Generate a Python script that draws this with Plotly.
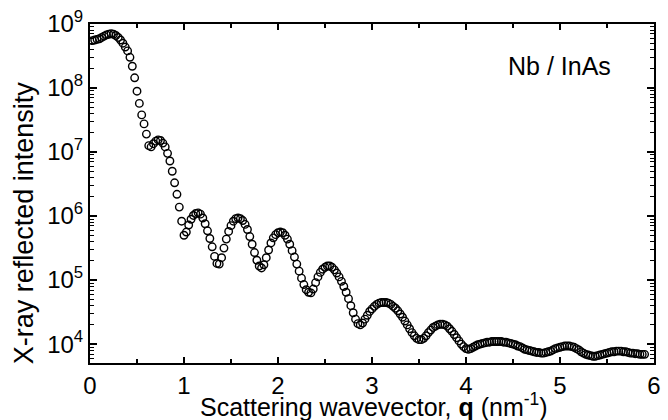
import plotly.graph_objects as go

# ---- data (q in nm^-1, log10 of reflected intensity) ----
q_nm_inv = [
    0.025, 0.050, 0.075, 0.100, 0.125, 0.150, 0.175, 0.200, 0.225, 0.250,
    0.275, 0.300, 0.325, 0.350, 0.375, 0.400, 0.425, 0.450, 0.475, 0.500,
    0.525, 0.550, 0.575, 0.600, 0.625, 0.650, 0.675, 0.700, 0.725, 0.750,
    0.775, 0.800, 0.825, 0.850, 0.875, 0.900, 0.925, 0.950, 0.975, 1.000,
    1.025, 1.050, 1.075, 1.100, 1.125, 1.150, 1.175, 1.200, 1.225, 1.250,
    1.275, 1.300, 1.325, 1.350, 1.375, 1.400, 1.425, 1.450, 1.475, 1.500,
    1.525, 1.550, 1.575, 1.600, 1.625, 1.650, 1.675, 1.700, 1.725, 1.750,
    1.775, 1.800, 1.825, 1.850, 1.875, 1.900, 1.925, 1.950, 1.975, 2.000,
    2.025, 2.050, 2.075, 2.100, 2.125, 2.150, 2.175, 2.200, 2.225, 2.250,
    2.275, 2.300, 2.325, 2.350, 2.375, 2.400, 2.425, 2.450, 2.475, 2.500,
    2.525, 2.550, 2.575, 2.600, 2.625, 2.650, 2.675, 2.700, 2.725, 2.750,
    2.775, 2.800, 2.825, 2.850, 2.875, 2.900, 2.925, 2.950, 2.975, 3.000,
    3.025, 3.050, 3.075, 3.100, 3.125, 3.150, 3.175, 3.200, 3.225, 3.250,
    3.275, 3.300, 3.325, 3.350, 3.375, 3.400, 3.425, 3.450, 3.475, 3.500,
    3.525, 3.550, 3.575, 3.600, 3.625, 3.650, 3.675, 3.700, 3.725, 3.750,
    3.775, 3.800, 3.825, 3.850, 3.875, 3.900, 3.925, 3.950, 3.975, 4.000,
    4.025, 4.050, 4.075, 4.100, 4.125, 4.150, 4.175, 4.200, 4.225, 4.250,
    4.275, 4.300, 4.325, 4.350, 4.375, 4.400, 4.425, 4.450, 4.475, 4.500,
    4.525, 4.550, 4.575, 4.600, 4.625, 4.650, 4.675, 4.700, 4.725, 4.750,
    4.775, 4.800, 4.825, 4.850, 4.875, 4.900, 4.925, 4.950, 4.975, 5.000,
    5.025, 5.050, 5.075, 5.100, 5.125, 5.150, 5.175, 5.200, 5.225, 5.250,
    5.275, 5.300, 5.325, 5.350, 5.375, 5.400, 5.425, 5.450, 5.475, 5.500,
    5.525, 5.550, 5.575, 5.600, 5.625, 5.650, 5.675, 5.700, 5.725, 5.750,
    5.775, 5.800, 5.825, 5.850, 5.875, 5.900,
]

log10_intensity = [
    8.74, 8.75, 8.76, 8.77, 8.79, 8.81, 8.83, 8.84, 8.85, 8.84,
    8.82, 8.79, 8.75, 8.70, 8.64, 8.58, 8.48, 8.34, 8.16, 7.95,
    7.76, 7.58, 7.44, 7.28, 7.10, 7.08, 7.13, 7.17, 7.19, 7.18,
    7.14, 7.08, 6.98, 6.86, 6.70, 6.52, 6.34, 6.14, 5.92, 5.70,
    5.75, 5.86, 5.95, 6.01, 6.04, 6.05, 6.03, 5.97, 5.88, 5.77,
    5.65, 5.52, 5.37, 5.26, 5.25, 5.35, 5.50, 5.64, 5.76, 5.85,
    5.92, 5.96, 5.97, 5.96, 5.93, 5.87, 5.79, 5.68, 5.56, 5.43,
    5.31, 5.22, 5.19, 5.24, 5.35, 5.47, 5.58, 5.66, 5.71, 5.74,
    5.75, 5.74, 5.70, 5.64, 5.56, 5.46, 5.36, 5.25, 5.14, 5.03,
    4.93, 4.85, 4.81, 4.80, 4.86, 4.96, 5.05, 5.12, 5.17, 5.20,
    5.22, 5.22, 5.20, 5.16, 5.11, 5.05, 4.98, 4.90, 4.81, 4.71,
    4.60, 4.49, 4.39, 4.32, 4.30, 4.33, 4.39, 4.45, 4.51, 4.55,
    4.59, 4.62, 4.64, 4.65, 4.65, 4.65, 4.64, 4.62, 4.59, 4.56,
    4.52, 4.47, 4.42, 4.36, 4.30, 4.24, 4.18, 4.13, 4.09, 4.07,
    4.07, 4.09, 4.13, 4.18, 4.22, 4.26, 4.28, 4.30, 4.31, 4.31,
    4.30, 4.28, 4.24, 4.20, 4.15, 4.10, 4.05, 4.00, 3.96, 3.93,
    3.92, 3.93, 3.95, 3.97, 3.99, 4.00, 4.01, 4.02, 4.03, 4.03,
    4.04, 4.04, 4.04, 4.04, 4.04, 4.03, 4.03, 4.02, 4.01, 4.00,
    3.99, 3.97, 3.96, 3.94, 3.92, 3.91, 3.90, 3.89, 3.88, 3.87,
    3.87, 3.86, 3.86, 3.87, 3.88, 3.89, 3.91, 3.93, 3.94, 3.95,
    3.96, 3.97, 3.97, 3.97, 3.96, 3.95, 3.93, 3.91, 3.88, 3.86,
    3.84, 3.83, 3.82, 3.81, 3.81, 3.82, 3.83, 3.84, 3.85, 3.86,
    3.87, 3.88, 3.88, 3.89, 3.89, 3.89, 3.88, 3.88, 3.87, 3.86,
    3.86, 3.85, 3.85, 3.84, 3.84, 3.84,
]

x_tick_vals = [0, 1, 2, 3, 4, 5, 6]
x_tick_text = ["0", "1", "2", "3", "4", "5", "6"]
y_tick_vals = [1e4, 1e5, 1e6, 1e7, 1e8, 1e9]
y_tick_text = ["10<sup>4</sup>", "10<sup>5</sup>", "10<sup>6</sup>",
               "10<sup>7</sup>", "10<sup>8</sup>", "10<sup>9</sup>"]

sample_label = "Nb / InAs"
x_title = "Scattering wavevector, <b>q</b> (nm<sup>-1</sup>)"
y_title = "X-ray reflected intensity"

intensity = [10 ** v for v in log10_intensity]

FONT = "Liberation Sans, Arial, Helvetica, sans-serif"

fig = go.Figure()
fig.add_trace(go.Scatter(
    x=q_nm_inv, y=intensity, mode="markers",
    marker=dict(symbol="circle-open", size=7.5, color="black",
                line=dict(width=1.4, color="black")),
    showlegend=False,
))

axis_common = dict(
    showline=True, linecolor="black", linewidth=2, mirror="ticks",
    ticks="inside", tickcolor="black", tickwidth=1.5,
    showgrid=False, zeroline=False,
    tickfont=dict(family=FONT, size=24, color="black"),
)

fig.update_layout(
    width=668, height=420,
    margin=dict(l=90, r=7, t=23, b=57),
    paper_bgcolor="white", plot_bgcolor="white",
    font=dict(family=FONT, color="black"),
    xaxis=dict(
        range=[0, 6], tickmode="array", tickvals=x_tick_vals, ticktext=x_tick_text,
        ticklen=6,
        minor=dict(dtick=0.5, ticks="inside", ticklen=4, tickwidth=1.5, tickcolor="black"),
        **axis_common,
    ),
    yaxis=dict(
        type="log", range=[3.705, 9.0], tickmode="array",
        tickvals=y_tick_vals, ticktext=y_tick_text, ticklen=7,
        minor=dict(dtick="D1", ticks="inside", ticklen=4, tickwidth=1.2, tickcolor="black"),
        **axis_common,
    ),
    annotations=[
        dict(text=sample_label, xref="paper", yref="paper", x=0.832, y=0.877,
             xanchor="center", yanchor="middle", showarrow=False,
             font=dict(family=FONT, size=25, color="black")),
        dict(text=x_title, xref="paper", yref="paper", x=0.5035, y=-0.125,
             xanchor="center", yanchor="middle", showarrow=False,
             font=dict(family=FONT, size=25, color="black")),
        dict(text=y_title, xref="paper", yref="paper", x=-0.117, y=0.412,
             xanchor="center", yanchor="middle", showarrow=False, textangle=-90,
             font=dict(family=FONT, size=27, color="black")),
    ],
)

fig.write_html("out.html")
